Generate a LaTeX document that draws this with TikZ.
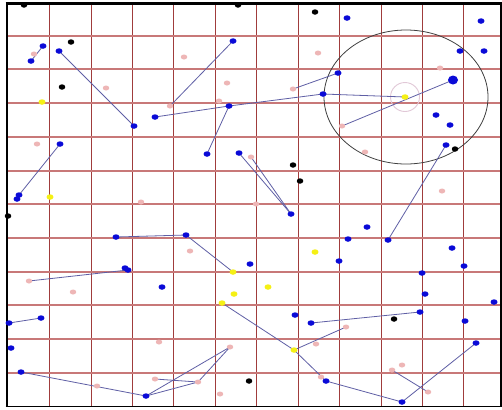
\documentclass[tikz,border=0pt]{standalone}
\usetikzlibrary{shapes.geometric}
\pgfdeclarelayer{bglayer}
\pgfdeclarelayer{gridlayer}
\pgfdeclarelayer{linklayer}
\pgfsetlayers{bglayer,gridlayer,linklayer,main}
\definecolor{dotblue}{RGB}{10,10,215}
\definecolor{dotpink}{RGB}{238,182,182}
\definecolor{dotyellow}{RGB}{245,240,20}
\definecolor{gridv}{RGB}{160,60,60}
\definecolor{gridh}{RGB}{200,120,120}
\definecolor{linkc}{RGB}{95,95,165}
\definecolor{halo}{RGB}{225,200,215}
\begin{document}
\begin{tikzpicture}[x=1bp,y=-1bp,
  dotbase/.style={ellipse, inner sep=0pt, minimum width=7bp, minimum height=5.5bp, draw=none},
  bdot/.style={dotbase, fill=dotblue},
  bigdot/.style={dotbase, fill=dotblue, minimum width=10bp, minimum height=9bp},
  pdot/.style={dotbase, fill=dotpink, minimum width=6.5bp, minimum height=5bp},
  kdot/.style={dotbase, fill=black, minimum width=6.5bp, minimum height=5.5bp},
  ydot/.style={dotbase, fill=dotyellow},
  link/.style={draw=linkc, line width=0.8bp},
  vline/.style={draw=gridv, line width=1.6bp},
  hline/.style={draw=gridh, line width=2bp},
  frame/.style={draw=black, line width=1.6bp}]
\useasboundingbox (0,0) rectangle (502,409);
\begin{pgfonlayer}{bglayer}
\fill[white] (0,0) rectangle (502,409);
\end{pgfonlayer}

% grid
\begin{pgfonlayer}{gridlayer}
\foreach \gx in {49,91,132,173,215,256,298,339,381,422,463}
  \draw[vline] (\gx+0.5,3) -- (\gx+0.5,406);
\foreach \gy in {36,69,103,137,171,204,238,272,305,339,373}
  \draw[hline] (7,\gy) -- (501,\gy);
\end{pgfonlayer}

% frame
\draw[frame, line width=2.6bp] (5.5,3.5) -- (501.5,3.5);
\draw[frame, line width=2bp] (6.5,2.5) -- (6.5,407);
\draw[frame, line width=1.6bp] (5.5,406.5) -- (501.5,406.5);
\draw[frame, line width=1.4bp] (501,2.5) -- (501,407);

% blue dots
\node[bdot] (b1) at (43,46) {};
\node[bdot] (b2) at (31,61) {};
\node[bdot] (b3) at (59,51) {};
\node[bdot] (b4) at (134,126) {};
\node[bdot] (b5) at (155,117) {};
\node[bdot] (b6) at (229,106) {};
\node[bdot] (b7) at (233,41) {};
\node[bdot] (b8) at (323,94) {};
\node[bdot] (b9) at (338,73) {};
\node[bdot] (b10) at (347,18) {};
\node[bdot] (b11) at (481,21) {};
\node[bdot] (b12) at (460,51) {};
\node[bdot] (b13) at (484,51) {};
\node[bigdot] (b14) at (453,80) {};
\node[bdot] (b15) at (436,115) {};
\node[bdot] (b16) at (450,125) {};
\node[bdot] (b17) at (207,154) {};
\node[bdot] (b18) at (239,153) {};
\node[bdot] (b19) at (291,214) {};
\node[bdot] (b20) at (60,144) {};
\node[bdot] (b21) at (19,195) {};
\node[bdot] (b22) at (17,199) {};
\node[bdot] (b23) at (116,237) {};
\node[bdot] (b24) at (186,235) {};
\node[bdot] (b25) at (125,268) {};
\node[bdot] (b25b) at (128,270) {};
\node[bdot] (b26) at (250,264) {};
\node[bdot] (b27) at (446,145) {};
\node[bdot] (b28) at (388,240) {};
\node[bdot] (b29) at (367,227) {};
\node[bdot] (b30) at (348,239) {};
\node[bdot] (b31) at (339,261) {};
\node[bdot] (b32) at (452,248) {};
\node[bdot] (b33) at (464,266) {};
\node[bdot] (b34) at (422,273) {};
\node[bdot] (b35) at (162,287) {};
\node[bdot] (b36) at (41,318) {};
\node[bdot] (b37) at (9,323) {};
\node[bdot] (b38) at (11,348) {};
\node[bdot] (b39) at (21,372) {};
\node[bdot] (b40) at (146,396) {};
\node[bdot] (b41) at (295,315) {};
\node[bdot] (b42) at (311,323) {};
\node[bdot] (b43) at (326,381) {};
\node[bdot] (b44) at (425,294) {};
\node[bdot] (b45) at (494,302) {};
\node[bdot] (b46) at (420,312) {};
\node[bdot] (b47) at (465,321) {};
\node[bdot] (b48) at (476,343) {};
\node[bdot] (b49) at (402,402) {};

% pink dots
\node[pdot] (p1) at (34,54) {};
\node[pdot] (p2) at (106,88) {};
\node[pdot] (p3) at (170,106) {};
\node[pdot] (p4) at (184,57) {};
\node[pdot] (p5) at (227,83) {};
\node[pdot] (p6) at (219,101) {};
\node[pdot] (p7) at (293,89) {};
\node[pdot] (p8) at (318,53) {};
\node[pdot] (p9) at (440,68) {};
\node[pdot] (p10) at (342,126) {};
\node[pdot] (p11) at (37,144) {};
\node[pdot] (p12) at (251,157) {};
\node[pdot] (p13) at (256,204) {};
\node[pdot] (p14) at (141,202) {};
\node[pdot] (p15) at (190,251) {};
\node[pdot] (p16) at (365,152) {};
\node[pdot] (p17) at (442,191) {};
\node[pdot] (p18) at (29,281) {};
\node[pdot] (p19) at (73,292) {};
\node[pdot] (p20) at (159,342) {};
\node[pdot] (p21) at (97,386) {};
\node[pdot] (p22) at (155,379) {};
\node[pdot] (p23) at (198,382) {};
\node[pdot] (p24) at (230,347) {};
\node[pdot] (p25) at (220,394) {};
\node[pdot] (p26) at (316,344) {};
\node[pdot] (p27) at (346,327) {};
\node[pdot] (p28) at (321,377) {};
\node[pdot] (p29) at (402,365) {};
\node[pdot] (p30) at (392,370) {};
\node[pdot] (p31) at (428,392) {};

% black dots
\node[kdot] (k1) at (24,5) {};
\node[kdot] (k2) at (71,42) {};
\node[kdot] (k3) at (62,87) {};
\node[kdot] (k4) at (238,5) {};
\node[kdot] (k5) at (315,12) {};
\node[kdot] (k6) at (293,165) {};
\node[kdot] (k7) at (300,181) {};
\node[kdot] (k8) at (8,216) {};
\node[kdot] (k9) at (455,149) {};
\node[kdot] (k10) at (394,319) {};
\node[kdot] (k11) at (249,381) {};

% yellow dots
\node[ydot] (y1) at (42,102) {};
\node[ydot] (y2) at (405,97) {};
\node[ydot] (y3) at (50,197) {};
\node[ydot] (y4) at (233,272) {};
\node[ydot] (y5) at (315,252) {};
\node[ydot] (y6) at (268,287) {};
\node[ydot] (y7) at (234,294) {};
\node[ydot] (y8) at (222,303) {};
\node[ydot] (y9) at (294,350) {};

% circles and connectors
\begin{pgfonlayer}{linklayer}
\draw[draw=black!75, line width=0.8bp] (y2.center) ++(1,0) ellipse (82 and 67);
\draw[draw=halo, line width=0.9bp] (y2.center) circle (14.5);
\draw[link] (b1.center) -- (b2.center);
\draw[link] (b3.center) -- (b4.center);
\draw[link] (b5.center) -- (b6.center);
\draw[link] (b6.center) -- (b8.center);
\draw[link] (b7.center) -- (p3.center);
\draw[link] (p7.center) -- (b9.center);
\draw[link] (b8.center) -- (y2.center);
\draw[link] (b14.center) -- (p10.center);
\draw[link] (b6.center) -- (b17.center);
\draw[link] (b18.center) -- (b19.center);
\draw[link] (p12.center) -- (b19.center);
\draw[link] (b20.center) -- (b21.center);
\draw[link] (b23.center) -- (b24.center);
\draw[link] (p18.center) -- (b25b.center);
\draw[link] (b24.center) -- (y4.center);
\draw[link] (b27.center) -- (b28.center);
\draw[link] (b37.center) -- (b36.center);
\draw[link] (b39.center) -- (b40.center);
\draw[link] (b40.center) -- (p24.center);
\draw[link] (b40.center) -- (p23.center);
\draw[link] (p22.center) -- (p23.center);
\draw[link] (p23.center) -- (p24.center);
\draw[link] (y8.center) -- (y9.center);
\draw[link] (y9.center) -- (b43.center);
\draw[link] (y9.center) -- (p27.center);
\draw[link] (b42.center) -- (b46.center);
\draw[link] (b43.center) -- (b49.center);
\draw[link] (b49.center) -- (b48.center);
\draw[link] (p30.center) -- (p31.center);
\end{pgfonlayer}
\end{tikzpicture}
\end{document}
